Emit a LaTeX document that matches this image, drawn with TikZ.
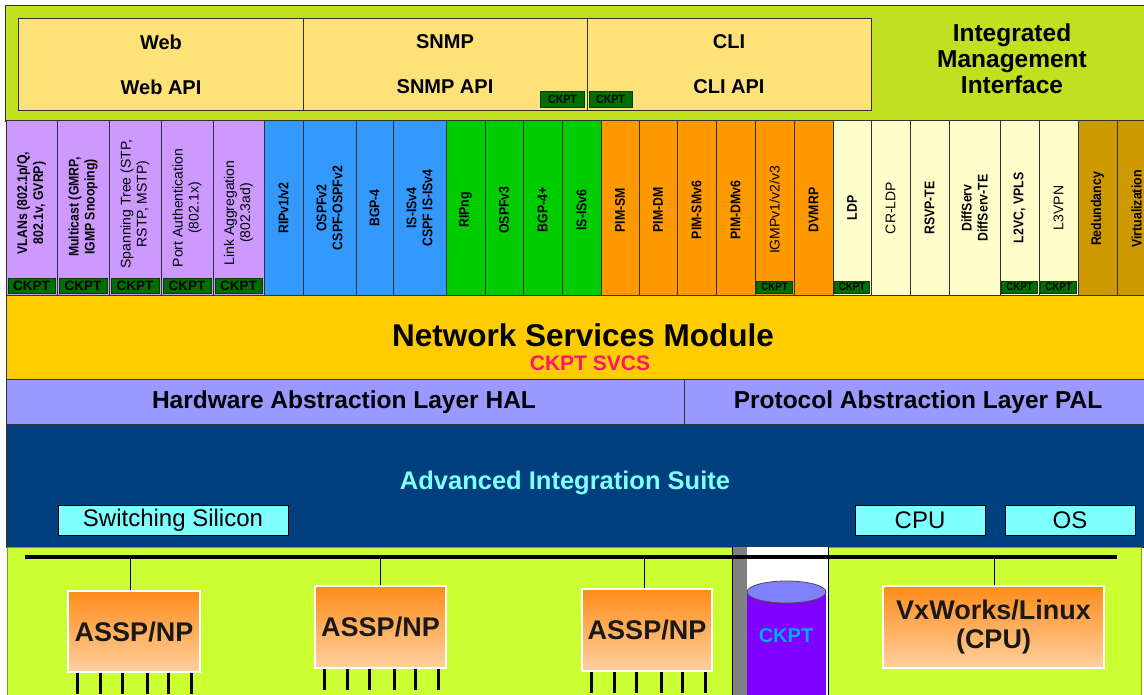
\documentclass[tikz,border=0pt]{standalone}
\usepackage{fontspec}
\setmainfont{Liberation Sans}
\newfontfamily\narrowfont[FakeStretch=0.88]{Liberation Sans}
\definecolor{topgreen}{RGB}{192,224,32}
\definecolor{ylbox}{RGB}{253,226,122}
\definecolor{ckgreen}{RGB}{0,110,0}
\definecolor{cpurple}{RGB}{204,153,255}
\definecolor{cblue}{RGB}{51,153,255}
\definecolor{cgreen}{RGB}{0,204,0}
\definecolor{corange}{RGB}{255,153,0}
\definecolor{ccream}{RGB}{255,255,204}
\definecolor{cgold}{RGB}{204,153,0}
\definecolor{nsm}{RGB}{255,204,0}
\definecolor{hal}{RGB}{153,153,255}
\definecolor{ais}{RGB}{2,63,127}
\definecolor{aistext}{RGB}{128,255,255}
\definecolor{lime}{RGB}{204,255,51}
\definecolor{pinkred}{RGB}{255,20,110}
\definecolor{cylbody}{RGB}{127,0,255}
\definecolor{cyltop}{RGB}{128,128,255}
\definecolor{boxtop}{RGB}{255,140,26}
\definecolor{boxbot}{RGB}{255,208,160}
\definecolor{edge}{RGB}{50,50,50}
\newcommand\pcol[7]{%
  \node[colbox, fill=#4, minimum width={(#3-#2)*1pt}, anchor=north west] (#1) at (#2,120) {};
  \node[coltext, #6] (#1t) at ({(#2+#3)/2}, #7) {#5};
}
\newcommand\ckbig[3]{%
  \node[ckbigstyle, minimum width={(#3-#2-4)*1pt}] (#1) at ({(#2+#3)/2},285.5) {CKPT};
}
\newcommand\cksmall[3]{%
  \node[cksmallstyle, minimum width={(#3-#2-3)*1pt}] (#1) at ({(#2+#3)/2},287) {CKPT};
}
\tikzset{
  colbox/.style={draw=edge, line width=0.8pt, minimum height=175pt, inner sep=0pt},
  coltext/.style={rotate=90, align=center, inner sep=0pt, font=\fontsize{14}{16}\selectfont},
  bf/.style={font=\narrowfont\bfseries\fontsize{14}{16}\selectfont},
  ckbigstyle/.style={fill=ckgreen, draw=ckgreen!60!black, line width=0.6pt, minimum height=15pt, inner sep=0pt, font=\bfseries\fontsize{13.5}{14}\selectfont, text=black},
  cksmallstyle/.style={fill=ckgreen, draw=ckgreen!60!black, line width=0.6pt, minimum height=12pt, inner sep=0pt, font=\narrowfont\bfseries\fontsize{11}{12}\selectfont, text=black},
  band/.style={draw=edge, line width=0.8pt},
  toplbl/.style={font=\bfseries\fontsize{20}{22}\selectfont, inner sep=0pt},
  layerlbl/.style={font=\bfseries\fontsize{24.5}{28}\selectfont, inner sep=0pt},
  cyanbox/.style={fill=aistext, draw=black, line width=0.8pt, inner sep=0pt, minimum height=30pt, font=\fontsize{24}{26}\selectfont},
  chip/.style={top color=boxtop, bottom color=boxbot, draw=white, line width=1.2pt, inner sep=0pt, align=center, font=\bfseries\fontsize{27}{29}\selectfont, text=black!90},
  pin/.style={line width=2.2pt, black},
  wire/.style={line width=1pt, black}
}
\begin{document}
\begin{tikzpicture}[x=1pt,y=-1pt]
\useasboundingbox (0,0) rectangle (1144,694);
\clip (0,0) rectangle (1144,694);
\fill[white] (0,0) rectangle (1144,694);
% top management band
\filldraw[fill=topgreen, draw=edge, line width=0.8pt] (5,5) rectangle (1150,121);
\node[draw=edge, line width=0.8pt, fill=ylbox, minimum width=853pt, minimum height=92pt, inner sep=0pt, anchor=north west] (ybox) at (18,18) {};
\draw[edge, line width=0.8pt] (303,18) -- (303,110);
\draw[edge, line width=0.8pt] (587,18) -- (587,110);
\node[toplbl] (web) at (161,42) {Web};
\node[toplbl] (webapi) at (161,87) {Web API};
\node[toplbl] (snmp) at (445,42) {SNMP};
\node[toplbl] (snmpapi) at (445,87) {SNMP API};
\node[toplbl] (cli) at (729,42) {CLI};
\node[toplbl] (cliapi) at (729,87) {CLI API};
\node[cksmallstyle, minimum width=44pt, minimum height=16pt, font=\narrowfont\bfseries\fontsize{12}{12}\selectfont] (cksnmp) at (562.5,99) {CKPT};
\node[cksmallstyle, minimum width=43pt, minimum height=16pt, font=\narrowfont\bfseries\fontsize{12}{12}\selectfont] (ckcli) at (610.5,99) {CKPT};
\node[align=center, inner sep=0pt, font=\bfseries\fontsize{24.5}{26}\selectfont] (imi) at (1012,59) {Integrated\\Management\\Interface};
% protocol columns
\pcol{p1}{6}{57}{cpurple}{VLANs (802.1p/Q,\\802.1v, GVRP)}{bf}{203}
\pcol{p2}{57}{109}{cpurple}{Multicast (GMRP,\\IGMP Snooping)}{bf}{207}
\pcol{p3}{109}{161}{cpurple}{Spanning Tree (STP,\\RSTP, MSTP)}{}{204}
\pcol{p4}{161}{213}{cpurple}{Port Authentication\\(802.1x)}{}{208}
\pcol{p5}{213}{264}{cpurple}{Link Aggregation\\(802.3ad)}{}{213}
\pcol{b1}{264}{303}{cblue}{RIPv1/v2}{bf}{208}
\pcol{b2}{303}{356}{cblue}{OSPFv2\\CSPF-OSPFv2}{bf}{208}
\pcol{b3}{356}{393}{cblue}{BGP-4}{bf}{208}
\pcol{b4}{393}{446}{cblue}{IS-ISv4\\CSPF IS-ISv4}{bf}{208}
\pcol{g1}{446}{485}{cgreen}{RIPng}{bf}{210}
\pcol{g2}{485}{523}{cgreen}{OSPFv3}{bf}{210}
\pcol{g3}{523}{562}{cgreen}{BGP-4+}{bf}{210}
\pcol{g4}{562}{601}{cgreen}{IS-ISv6}{bf}{210}
\pcol{o1}{601}{639}{corange}{PIM-SM}{bf}{210}
\pcol{o2}{639}{677}{corange}{PIM-DM}{bf}{210}
\pcol{o3}{677}{716}{corange}{PIM-SMv6}{bf}{210}
\pcol{o4}{716}{755}{corange}{PIM-DMv6}{bf}{210}
\pcol{o5}{755}{794}{corange}{IGMPv1/v2/v3}{}{210}
\pcol{o6}{794}{833}{corange}{DVMRP}{bf}{210}
\pcol{m1}{833}{871}{ccream}{LDP}{bf}{208}
\pcol{m2}{871}{910}{ccream}{CR-LDP}{}{208}
\pcol{m3}{910}{949}{ccream}{RSVP-TE}{bf}{208}
\pcol{m4}{949}{1000}{ccream}{DiffServ\\DiffServ-TE}{bf}{208}
\pcol{m5}{1000}{1039}{ccream}{L2VC, VPLS}{bf}{208}
\pcol{m6}{1039}{1078}{ccream}{L3VPN}{}{208}
\pcol{r1}{1078}{1117}{cgold}{Redundancy}{bf}{209}
\pcol{r2}{1117}{1156}{cgold}{Virtualization}{bf}{209}
\ckbig{ck1}{6}{57}
\ckbig{ck2}{57}{109}
\ckbig{ck3}{109}{161}
\ckbig{ck4}{161}{213}
\ckbig{ck5}{213}{264}
\cksmall{ck6}{755}{794}
\cksmall{ck7}{833}{871}
\cksmall{ck8}{1000}{1039}
\cksmall{ck9}{1039}{1078}
% network services module
\filldraw[band, fill=nsm] (6,295) rectangle (1150,379);
\node[font=\bfseries\fontsize{31.5}{33}\selectfont, inner sep=0pt] (nsmt) at (583,335) {Network Services Module};
\node[font=\bfseries\fontsize{21}{22}\selectfont, text=pinkred, inner sep=0pt] (svcs) at (590,363) {CKPT SVCS};
% HAL / PAL
\filldraw[band, fill=hal] (6,379) rectangle (684,424);
\filldraw[band, fill=hal] (684,379) rectangle (1150,424);
\node[layerlbl] (halt) at (344,402) {Hardware Abstraction Layer HAL};
\node[layerlbl] (palt) at (918,402) {Protocol Abstraction Layer PAL};
% AIS
\filldraw[band, fill=ais] (6,424) rectangle (1150,547);
\node[layerlbl, text=aistext, font=\bfseries\fontsize{25.5}{28}\selectfont] (aist) at (565,483) {Advanced Integration Suite};
\node[cyanbox, minimum width=230pt] (sws) at (173,520) {Switching Silicon};
\node[cyanbox, minimum width=130pt] (cpu) at (920,520) {CPU};
\node[cyanbox, minimum width=130pt] (os) at (1070,520) {OS};
% bottom hardware area
\filldraw[fill=lime, draw=topgreen!70!black, line width=1pt] (7,547) rectangle (1141,700);
\fill[white] (747,547) rectangle (828,700);
\fill[gray] (733,547) rectangle (747,700);
\draw[black, line width=1pt] (732.5,547) -- (732.5,700);
\draw[black, line width=1pt] (828,547) -- (828,700);
% cylinder
\fill[cylbody] (747,592) rectangle (826,700);
\filldraw[fill=cyltop, draw=black!70, line width=0.8pt] (786.5,592) ellipse [x radius=39.5, y radius=11];
\node[font=\bfseries\fontsize{20}{22}\selectfont, text=cyan, inner sep=0pt] (cylt) at (786,636) {CKPT};
% bus
\coordinate (busL) at (25,557);
\coordinate (busR) at (1117,557);
\draw[line width=4pt] (busL) -- (busR);
% chips
\node[chip, minimum width=132pt, minimum height=81pt] (np1) at (134,631.5) {ASSP/NP};
\node[chip, minimum width=131pt, minimum height=82pt] (np2) at (380.5,627) {ASSP/NP};
\node[chip, minimum width=130pt, minimum height=82pt] (np3) at (647,630) {ASSP/NP};
\node[chip, minimum width=221pt, minimum height=82pt] (vx) at (993.5,627) {VxWorks/Linux\\(CPU)};
\draw[wire] ([xshift=-4pt]np1.north) -- ([xshift=-4pt]np1.north |- busL);
\draw[wire] (np2.north) -- (np2.north |- busL);
\draw[wire] ([xshift=-3pt]np3.north) -- ([xshift=-3pt]np3.north |- busL);
\draw[wire] ([xshift=1pt]vx.north) -- ([xshift=1pt]vx.north |- busL);
\foreach \n in {np1,np2,np3}{
  \foreach \dx in {10,33,55,80,101,124}{
    \draw[pin] ([xshift=\dx pt]\n.south west) -- ++(0,21);
  }
}
\end{tikzpicture}
\end{document}
